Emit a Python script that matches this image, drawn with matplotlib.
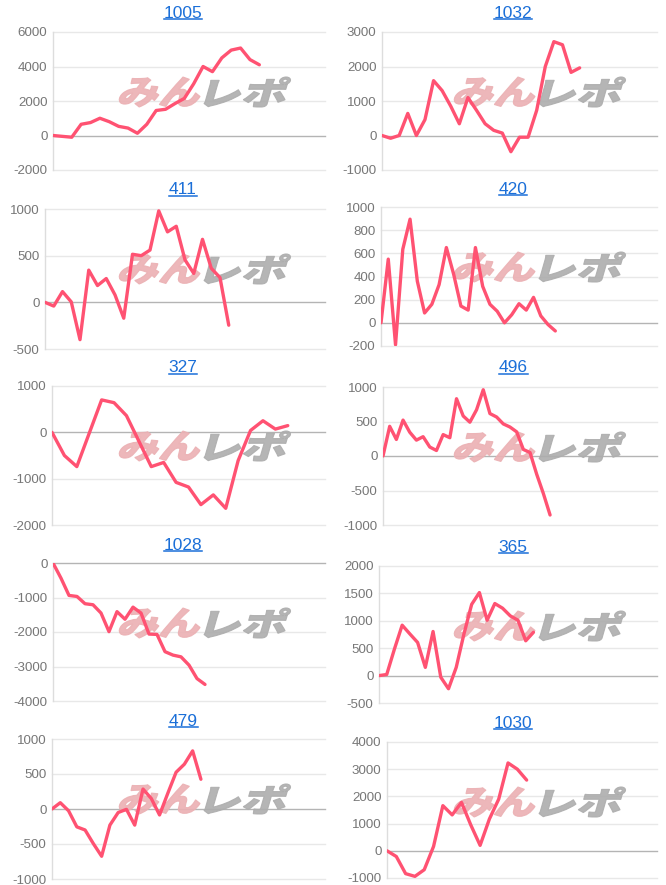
import matplotlib
matplotlib.use("Agg")
import matplotlib.pyplot as plt
from matplotlib.font_manager import FontProperties
from matplotlib.lines import Line2D
from matplotlib.patches import PathPatch
from matplotlib.textpath import TextPath
from matplotlib.transforms import Affine2D

plt.rcParams["font.family"] = ["Liberation Sans", "DejaVu Sans"]
plt.rcParams["axes.unicode_minus"] = False

# --- data ---
titles = ["1005", "1032", "411", "420", "327", "496", "1028", "365", "479", "1030"]

s1005 = [0, -50, -100, 650, 750, 1000, 800, 530, 430, 130, 650, 1450, 1520, 1850,
         2150, 3000, 4000, 3700, 4500, 4950, 5070, 4400, 4100]
s1032 = [0, -80, 0, 640, 0, 460, 1590, 1300, 850, 340, 1100, 730, 340, 150, 70,
         -470, -50, -50, 730, 2000, 2720, 2630, 1830, 1960]
s411 = [0, -40, 115, 5, -400, 345, 180, 255, 80, -170, 515, 500, 560, 980, 755,
        815, 455, 310, 675, 365, 265, -245]
s420 = [0, 550, -190, 635, 895, 360, 85, 160, 330, 650, 420, 145, 110, 650, 315,
        160, 100, 0, 70, 165, 110, 220, 60, -15, -70]
s327 = [0, -500, -740, -20, 700, 640, 360, -190, -740, -650, -1080, -1180, -1560,
        -1350, -1640, -610, 40, 250, 70, 145]
s496 = [0, 430, 240, 520, 345, 230, 280, 130, 80, 310, 265, 830, 580, 490, 670,
        960, 615, 565, 465, 420, 350, 95, 50, -265, -545, -855]
s1028 = [0, -440, -940, -970, -1180, -1210, -1450, -1990, -1410, -1630, -1280,
         -1450, -2060, -2070, -2570, -2670, -2720, -2960, -3350, -3520]
s365 = [0, 20, 485, 920, 760, 605, 150, 805, -30, -240, 150, 760, 1300, 1515,
        1010, 1315, 1230, 1090, 1010, 635, 790]
s479 = [0, 90, -25, -255, -300, -495, -675, -230, -50, -5, -230, 285, 150, -85,
        225, 525, 640, 830, 425]
s1030 = [0, -210, -840, -940, -695, 160, 1660, 1320, 1780, 950, 200, 1170, 1900,
         3230, 3000, 2600]

series = [s1005, s1032, s411, s420, s327, s496, s1028, s365, s479, s1030]

# y axis: (min, max, step)
y_axes = [(-2000, 6000, 2000), (-1000, 3000, 1000), (-500, 1000, 500),
          (-200, 1000, 200), (-2000, 1000, 1000), (-1000, 1000, 500),
          (-4000, 0, 1000), (-500, 2000, 500), (-1000, 1000, 500),
          (-1000, 4000, 1000)]
# number of x slots each chart spans
slots = [29, 32, 32, 38, 22, 41, 34, 36, 33, 29]

# --- layout, in pixels (left, top, right, bottom) ---
W, H = 666, 885
boxes = [(53, 32, 325, 170), (382, 32, 657, 170),
         (45, 209, 325, 349), (381, 207, 657, 346),
         (52, 386, 325, 525), (383, 387, 657, 525),
         (53, 563, 325, 701), (379, 566, 657, 703),
         (52, 739, 325, 879), (387, 742, 657, 878)]
title_y = [13, 13, 190, 189, 368, 368, 545, 547, 721, 723]
title_x = [183, 513]

LINE = "#ff5272"
BLUE = "#1b6fd8"
GRID = "#e8e8e8"
ZERO = "#b4b4b4"

fig = plt.figure(figsize=(W / 100, H / 100), dpi=100)
fig.patch.set_facecolor("white")

mark_font = FontProperties(family="Noto Sans CJK JP", weight="heavy")


def watermark(ax, x_left, y_bottom):
    """Skewed, flattened two-tone logo drawn in figure pixels."""
    x = x_left
    for txt, col in (("みん", "#ebb0b3"), ("レポ", "#adadad")):
        path = TextPath((0, 0), txt, size=42, prop=mark_font)
        ext = path.get_extents()
        sy = 30 / ext.height
        sx = 80 / ext.width
        trf = (Affine2D().translate(-ext.x0, -ext.y0).scale(sx, sy).skew_deg(16, 0)
               .translate(x, H - y_bottom).scale(1 / W, 1 / H) + fig.transFigure)
        ax.add_patch(PathPatch(path, transform=trf, facecolor=col, edgecolor=col,
                               lw=0.8, alpha=0.9, zorder=2, clip_on=False))
        x += 80 + 6


title_texts = []
for i, (vals, (lo, hi, step), span, (l, t, r, b)) in enumerate(
        zip(series, y_axes, slots, boxes)):
    ax = fig.add_axes([l / W, 1 - b / H, (r - l) / W, (b - t) / H])
    ax.plot(range(len(vals)), vals, color=LINE, lw=2.4,
            solid_joinstyle="round", solid_capstyle="round", zorder=3)
    ax.set_xlim(0, span)
    ax.set_ylim(lo, hi)
    ticks = list(range(lo, hi + 1, step))
    ax.set_yticks(ticks)
    ax.set_yticklabels([str(v) for v in ticks])
    ax.set_xticks([])
    for sp in ax.spines.values():
        sp.set_visible(False)
    for v in ticks:
        ax.axhline(v, color=ZERO if v == 0 else GRID, lw=1, zorder=1, clip_on=False)
    ax.axvline(0, color="#dddddd", lw=1, zorder=1, clip_on=False)
    ax.tick_params(axis="y", length=0, pad=4, labelsize=9.6, labelcolor="#777777")

    col = i % 2
    wx = 117 if col == 0 else 452
    watermark(ax, wx, t + 75)

    txt = fig.text(title_x[col] / W, 1 - title_y[i] / H, titles[i], ha="center",
                   va="center", color=BLUE, fontsize=12.5)
    title_texts.append(txt)

# underline the titles like links
fig.canvas.draw()
renderer = fig.canvas.get_renderer()
inv = fig.transFigure.inverted()
for txt in title_texts:
    bb = txt.get_window_extent(renderer)
    (x0, y0), (x1, _) = inv.transform([(bb.x0, bb.y0 + 1.5), (bb.x1, bb.y0 + 1.5)])
    fig.add_artist(Line2D([x0, x1], [y0, y0], color=BLUE, lw=1.1))

fig.savefig("out.png", dpi=100)
